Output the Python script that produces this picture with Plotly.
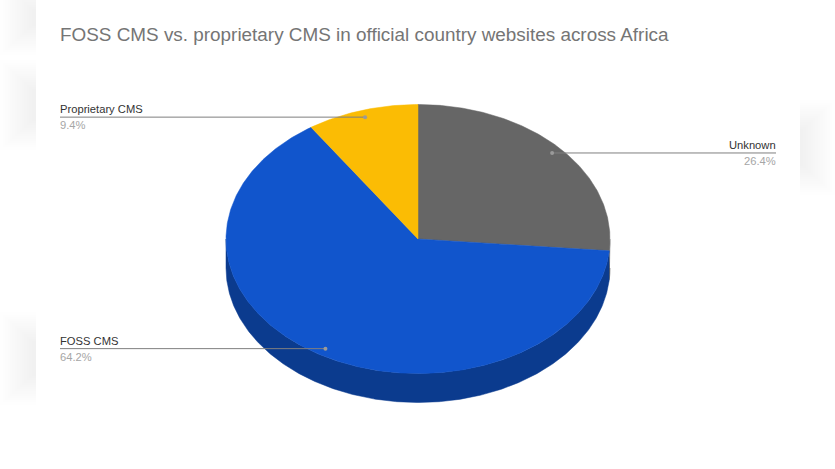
import numpy as np
import plotly.graph_objects as go

# Slices in drawing order, clockwise from 12 o'clock
categories = ['Unknown', 'FOSS CMS', 'Proprietary CMS']
shares = [26.4, 64.2, 9.4]
share_labels = ['26.4%', '64.2%', '9.4%']

colors = ['#666666', '#1155cc', '#fbbc04']
side_colors = ['#474747', '#0b3b8e', '#b08403']

# Pie geometry, in page pixels
cx, cy = 418, 239
rx, ry = 192, 134.5
depth = 29
label_left, label_right = 60, 776


def rim(start, end, drop=0):
    t = np.radians(np.linspace(start, end, max(int(abs(end - start)) * 2, 2)))
    return cx + rx * np.sin(t), cy - ry * np.cos(t) + drop


ends = np.cumsum(shares) / np.sum(shares) * 360
starts = ends - np.array(shares) / np.sum(shares) * 360
mids = (starts + ends) / 2

fig = go.Figure()

# Side wall, only the part facing the viewer (90 to 270 degrees)
for a, b, side in zip(starts, ends, side_colors):
    lo, hi = max(a, 90), min(b, 270)
    if hi <= lo:
        continue
    x1, y1 = rim(lo, hi)
    x2, y2 = rim(hi, lo, depth)
    fig.add_trace(go.Scatter(x=np.r_[x1, x2], y=np.r_[y1, y2], mode='lines', fill='toself',
                             fillcolor=side, line=dict(color=side, width=0.5), hoverinfo='skip'))

# Top of the pie
for a, b, name, col in zip(starts, ends, categories, colors):
    x1, y1 = rim(a, b)
    fig.add_trace(go.Scatter(x=np.r_[cx, x1, cx], y=np.r_[cy, y1, cy], mode='lines', fill='toself',
                             fillcolor=col, line=dict(color=col, width=0.5), name=name))

# Leader lines and their labels
annotations = []
for mid, name, label in zip(mids, categories, share_labels):
    px, py = rim(mid, mid + 1)
    dot_x = cx + (px[0] - cx) * 0.947
    dot_y = cy + (py[0] - cy) * 0.947
    on_right = mid < 180
    end_x = label_right if on_right else label_left
    anchor = 'right' if on_right else 'left'
    shift = 2 if on_right else -2
    fig.add_trace(go.Scatter(x=[end_x, dot_x], y=[dot_y, dot_y], mode='lines',
                             line=dict(color='#7f7f7f', width=1), hoverinfo='skip'))
    fig.add_trace(go.Scatter(x=[dot_x], y=[dot_y], mode='markers',
                             marker=dict(color='#9a9a9a', size=4), hoverinfo='skip'))
    annotations.append(dict(x=end_x, y=dot_y, text=name, xanchor=anchor, yanchor='bottom',
                            showarrow=False, xshift=shift,
                            font=dict(size=11.2, color='#333333')))
    annotations.append(dict(x=end_x, y=dot_y, text=label, xanchor=anchor, yanchor='top',
                            showarrow=False, xshift=shift,
                            font=dict(size=11.2, color='#a6a6a6')))

# Faint blurred patches on the page edges
shapes = []
for left, right, top, bottom, step in [(0, 36, -20, 55, 1), (0, 36, 60, 150, 1),
                                       (0, 36, 312, 405, 1), (800, 835, 100, 195, -1)]:
    for i in range(14):
        inset = i * 2.4
        x0, x1 = (left + inset, right) if step > 0 else (left, right - inset)
        shapes.append(dict(type='rect', xref='x', yref='y', x0=x0, x1=x1,
                           y0=top + i * 2.2, y1=bottom - i * 2.2, fillcolor='#000000',
                           opacity=0.004, line=dict(width=0), layer='below'))

fig.update_layout(
    title=dict(text='FOSS CMS vs. proprietary CMS in official country websites across Africa',
               x=60 / 835, xanchor='left', y=1 - 34 / 469, yanchor='middle',
               font=dict(size=18.9, color='#757575')),
    width=835, height=469,
    autosize=False,
    margin=dict(l=0, r=0, t=0, b=0),
    paper_bgcolor='white',
    plot_bgcolor='white',
    showlegend=False,
    font=dict(family='Liberation Sans, Arial, sans-serif'),
    xaxis=dict(range=[0, 835], visible=False, fixedrange=True),
    yaxis=dict(range=[469, 0], visible=False, fixedrange=True),
    annotations=annotations,
    shapes=shapes,
)

fig.write_html("out.html", config=dict(displayModeBar=False),
               post_script="document.body.style.margin='0';")
